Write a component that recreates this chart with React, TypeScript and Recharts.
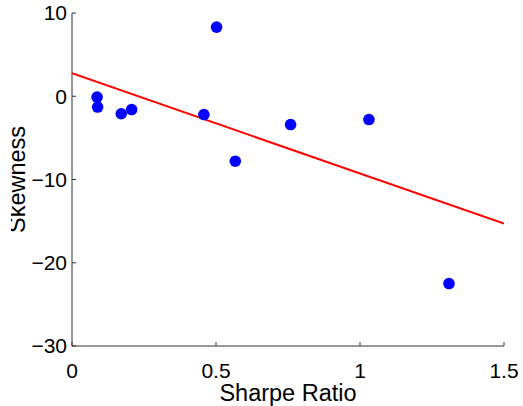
import { ScatterChart, Scatter, XAxis, YAxis } from "recharts"

// Sharpe ratio vs skewness
const sharpe = [0.087, 0.089, 0.171, 0.207, 0.458, 0.502, 0.567, 0.759, 1.031, 1.309]
const skewness = [-0.1, -1.3, -2.1, -1.6, -2.2, 8.3, -7.8, -3.4, -2.8, -22.5]

// least-squares fit line, endpoints at the x-range edges
const fitX = [0, 1.5]
const fitY = [2.76, -15.3]

const xTicks = [0, 0.5, 1, 1.5]
const yTicks = [-30, -20, -10, 0, 10]

const points = sharpe.map((x, i) => ({ x, y: skewness[i] }))
const fit = fitX.map((x, i) => ({ x, y: fitY[i] }))

const FONT = "'Liberation Sans', Arial, Helvetica, sans-serif"
const AXIS = "#333"
const fmt = (v: number) => (v < 0 ? "\u2212" + Math.abs(v) : String(v))

const XTick = (props: any) => {
  const { x, y, payload } = props
  const axisY = y - 17
  return (
    <g>
      <line x1={x} x2={x} y1={axisY} y2={axisY - 4} stroke={AXIS} />
      <text x={x} y={axisY + 17} dy="0.71em" textAnchor="middle" fontSize={21} fontFamily={FONT} fill="#000">
        {fmt(payload.value)}
      </text>
    </g>
  )
}

const YTick = (props: any) => {
  const { x, y, payload } = props
  const axisX = x + 5
  return (
    <g>
      <line x1={axisX} x2={axisX + 4} y1={y} y2={y} stroke={AXIS} />
      <text x={axisX - 5} y={y} dy="0.355em" textAnchor="end" fontSize={21} fontFamily={FONT} fill="#000">
        {fmt(payload.value)}
      </text>
    </g>
  )
}

const Dot = (props: any) => <circle cx={props.cx} cy={props.cy} r={5.8} fill="#0000ff" />

const XLabel = (props: any) => {
  const { x, y, width } = props.viewBox
  return (
    <text x={x + width / 2} y={y + 55} textAnchor="middle" fontSize={23.5} fontFamily={FONT} fill="#000">
      Sharpe Ratio
    </text>
  )
}

const YLabel = (props: any) => {
  const { y, height } = props.viewBox
  const cy = y + height / 2
  return (
    <g>
      <defs>
        <clipPath id="ylabClip">
          <rect x={11} y={0} width={60} height={406} />
        </clipPath>
      </defs>
      <g clipPath="url(#ylabClip)">
        <text
          x={25}
          y={cy}
          transform={`rotate(-90, 25, ${cy})`}
          textAnchor="middle"
          fontSize={23.5}
          fontFamily={FONT}
          fill="#000"
        >
          Skewness
        </text>
      </g>
    </g>
  )
}

export default function App() {
  return (
    <div style={{ position: "absolute", left: 0, top: 0, background: "#fff" }}>
      <ScatterChart width={523} height={406} margin={{ top: 13, right: 19, bottom: 0, left: 0 }}>
        <XAxis
          type="number"
          dataKey="x"
          domain={[0, 1.5]}
          ticks={xTicks}
          allowDataOverflow
          height={60}
          tickSize={0}
          tickMargin={17}
          tickLine={false}
          tick={<XTick />}
          stroke={AXIS}
          label={<XLabel />}
        />
        <YAxis
          type="number"
          dataKey="y"
          domain={[-30, 10]}
          ticks={yTicks}
          allowDataOverflow
          width={72}
          tickSize={0}
          tickMargin={5}
          tickLine={false}
          tick={<YTick />}
          stroke={AXIS}
          label={<YLabel />}
        />
        <Scatter
          data={fit}
          line={{ stroke: "#ff0000", strokeWidth: 2 }}
          shape={() => <g />}
          isAnimationActive={false}
        />
        <Scatter data={points} shape={<Dot />} isAnimationActive={false} />
      </ScatterChart>
    </div>
  )
}
